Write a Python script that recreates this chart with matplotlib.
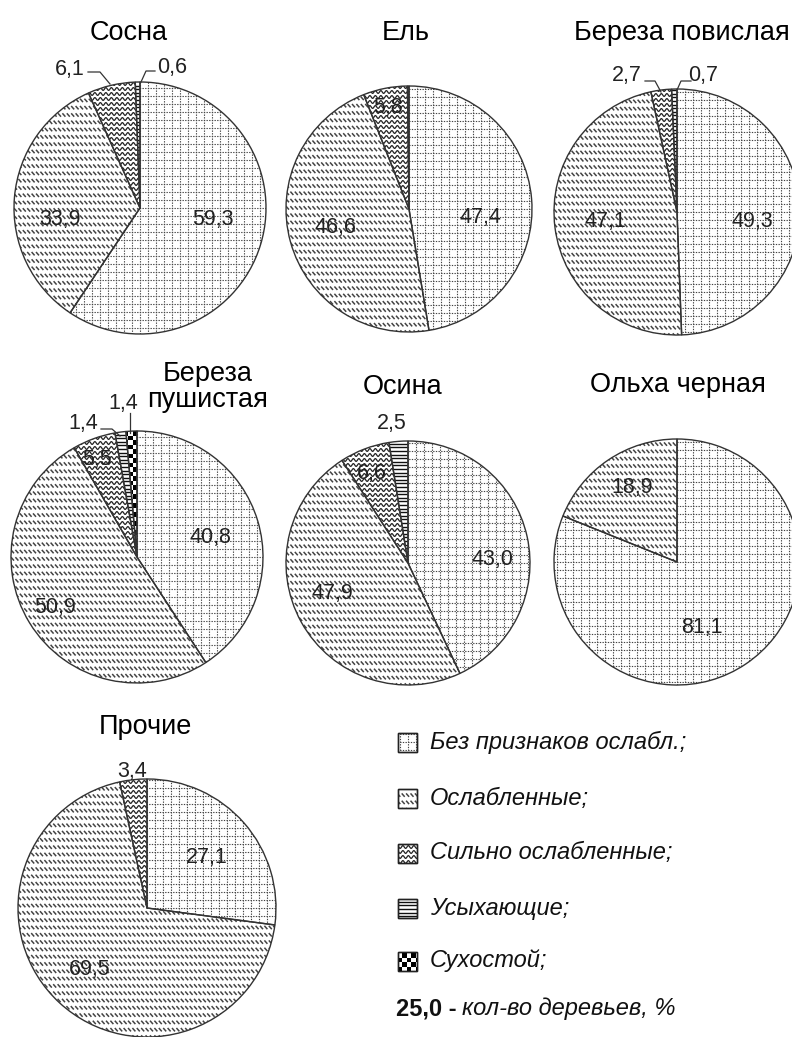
import matplotlib
matplotlib.use("Agg")
import matplotlib.pyplot as plt
import numpy as np
from matplotlib.collections import LineCollection, PatchCollection
from matplotlib.patches import Rectangle, Wedge

W, H = 792, 1037
plt.rcParams['font.family'] = ['Liberation Sans', 'DejaVu Sans']

categories = ['Без признаков ослабл.;', 'Ослабленные;', 'Сильно ослабленные;',
              'Усыхающие;', 'Сухостой;']
species = ['Сосна', 'Ель', 'Береза повислая', 'Береза\nпушистая', 'Осина',
           'Ольха черная', 'Прочие']
# shares per category, order as in categories
sosna = [59.3, 33.9, 6.1, 0.6, 0.0]
el = [47.4, 46.6, 5.8, 0.2, 0.0]
bereza_pov = [49.3, 47.1, 2.7, 0.7, 0.0]
bereza_push = [40.8, 50.9, 5.5, 1.4, 1.4]
osina = [43.0, 47.9, 6.6, 2.5, 0.0]
olha = [81.1, 18.9, 0.0, 0.0, 0.0]
prochie = [27.1, 69.5, 3.4, 0.0, 0.0]
all_values = [sosna, el, bereza_pov, bereza_push, osina, olha, prochie]

# layout (pixels from top-left): centre x, centre y, radius, title x, title y
layout = [
    (140, 208, 126, 129, 33),
    (409, 209, 123, 406, 33),
    (677, 212, 123, 682, 33),
    (137, 557, 126, 208, 387),
    (408, 563, 122, 403, 387),
    (677, 562, 123, 678, 385),
    (147, 908, 129, 145, 727),
]
# label positions per pie, per category (None = no label), leader lines
label_pos = [
    [(213, 220), (60, 220), (70, 70), (172, 68), None],
    [(480, 218), (335, 227), (388, 107), None, None],
    [(752, 222), (605, 222), (627, 75), (703, 75), None],
    [(210, 538), (55, 607), (97, 460), (83, 423), (123, 403)],
    [(492, 560), (332, 593), (372, 473), (392, 423), None],
    [(702, 627), (632, 487), None, None, None],
    [(207, 857), (90, 970), (132, 772), None, None],
]
leaders = [
    [[(88, 72), (100, 72), (110, 84)], [(155, 71), (146, 71), (141, 82)]],
    [],
    [[(645, 81), (655, 81), (661, 92)], [(691, 81), (681, 81), (677, 90)]],
    [[(101, 429), (112, 429), (120, 436)], [(130, 413), (130, 433)]],
    [],
    [],
    [],
]


def fy(y):
    return H - y


fig = plt.figure(figsize=(W / 100, H / 100), dpi=100)
ax = fig.add_axes([0, 0, 1, 1])


def fill_grid(cx, cy, r, clip):
    s = 8.0
    segs = []
    for k in np.arange(0, r + s, s):
        for x in {cx + k, cx - k}:
            segs.append([(x, cy - r), (x, cy + r)])
        for y in {cy + k, cy - k}:
            segs.append([(cx - r, y), (cx + r, y)])
    lc = LineCollection(segs, colors='#444444', linewidths=0.8,
                        linestyles=[(0, (1.2, 1.2))], zorder=1)
    ax.add_collection(lc)
    lc.set_clip_path(clip)


def fill_weak(cx, cy, r, clip):
    segs = []
    for y in np.arange(cy - r, cy + r, 7.3):
        for x in np.arange(cx - r, cx + r, 4.4):
            segs.append([(x, y + 1.7), (x + 3.0, y - 1.7)])
    lc = LineCollection(segs, colors='#444444', linewidths=1.1, zorder=1)
    ax.add_collection(lc)
    lc.set_clip_path(clip)


def fill_wave(cx, cy, r, clip):
    xs = np.arange(cx - r, cx + r, 0.5)
    segs = []
    for y in np.arange(cy - r, cy + r, 5.0):
        segs.append(np.column_stack([xs, y + 1.4 * np.sin(2 * np.pi * xs / 5.5)]))
    lc = LineCollection(segs, colors='#222222', linewidths=0.9, zorder=1)
    ax.add_collection(lc)
    lc.set_clip_path(clip)


def fill_hlines(cx, cy, r, clip):
    segs = [[(cx - r, y), (cx + r, y)] for y in np.arange(cy - r, cy + r, 3.6)]
    lc = LineCollection(segs, colors='#111111', linewidths=1.0, zorder=1)
    ax.add_collection(lc)
    lc.set_clip_path(clip)


def fill_checker(cx, cy, r, clip):
    s = 4.5
    rects = []
    for i, x in enumerate(np.arange(cx - r, cx + r, s)):
        for j, y in enumerate(np.arange(cy - r, cy + r, s)):
            if (i + j) % 2 == 0:
                rects.append(Rectangle((x, y), s, s))
    pc = PatchCollection(rects, facecolor='black', edgecolor='none', zorder=1)
    ax.add_collection(pc)
    pc.set_clip_path(clip)


fills = [fill_grid, fill_weak, fill_wave, fill_hlines, fill_checker]

for name, vals, (cx, py, r, tx, ty), lpos, lead in zip(
        species, all_values, layout, label_pos, leaders):
    cy = fy(py)
    wedges, _ = ax.pie(vals, center=(cx, cy), radius=r, startangle=90,
                       counterclock=False, frame=True,
                       wedgeprops=dict(facecolor='white', edgecolor='none',
                                       linewidth=0))
    for k, w in enumerate(wedges):
        w.set_zorder(0.5)
        if vals[k] <= 0:
            continue
        fills[k](cx, cy, r, w)
        # outline on top of pattern
        ax.add_patch(Wedge((cx, cy), r, w.theta1, w.theta2, facecolor='none',
                           edgecolor='#333333', linewidth=1.0, zorder=3))
    for k, p in enumerate(lpos):
        if p is None:
            continue
        ax.text(p[0], fy(p[1]), f'{vals[k]:.1f}'.replace('.', ','),
                ha='center', va='center', fontsize=15.5, color='#222222',
                zorder=5)
    for pts in lead:
        ax.plot([q[0] for q in pts], [fy(q[1]) for q in pts], color='#333333',
                lw=0.9, zorder=5)
    ax.text(tx, fy(ty), name, ha='center', va='center', fontsize=19.5,
            linespacing=1.0, zorder=5)

# legend
leg_y = [742, 798, 853, 908, 961]
for k, (label, y) in enumerate(zip(categories, leg_y)):
    bs = 19
    bx, by = 398, fy(y) - bs / 2
    box = Rectangle((bx, by), bs, bs, facecolor='white', edgecolor='#222222',
                    linewidth=1.0, zorder=0.5)
    ax.add_patch(box)
    fills[k](bx + bs / 2, by + bs / 2, bs, box)
    ax.add_patch(Rectangle((bx, by), bs, bs, facecolor='none',
                           edgecolor='#222222', linewidth=1.0, zorder=3))
    ax.text(430, fy(y), label, ha='left', va='center', fontsize=17,
            style='italic', color='#111111')
ax.text(396, fy(1009), '25,0 -', ha='left', va='center', fontsize=17,
        fontweight='bold', color='#111111')
ax.text(462, fy(1009), 'кол-во деревьев, %', ha='left', va='center',
        fontsize=17, style='italic', color='#111111')

ax.set_xlim(0, W)
ax.set_ylim(0, H)
ax.set_aspect('equal')
ax.axis('off')

fig.savefig('out.png', dpi=100)
